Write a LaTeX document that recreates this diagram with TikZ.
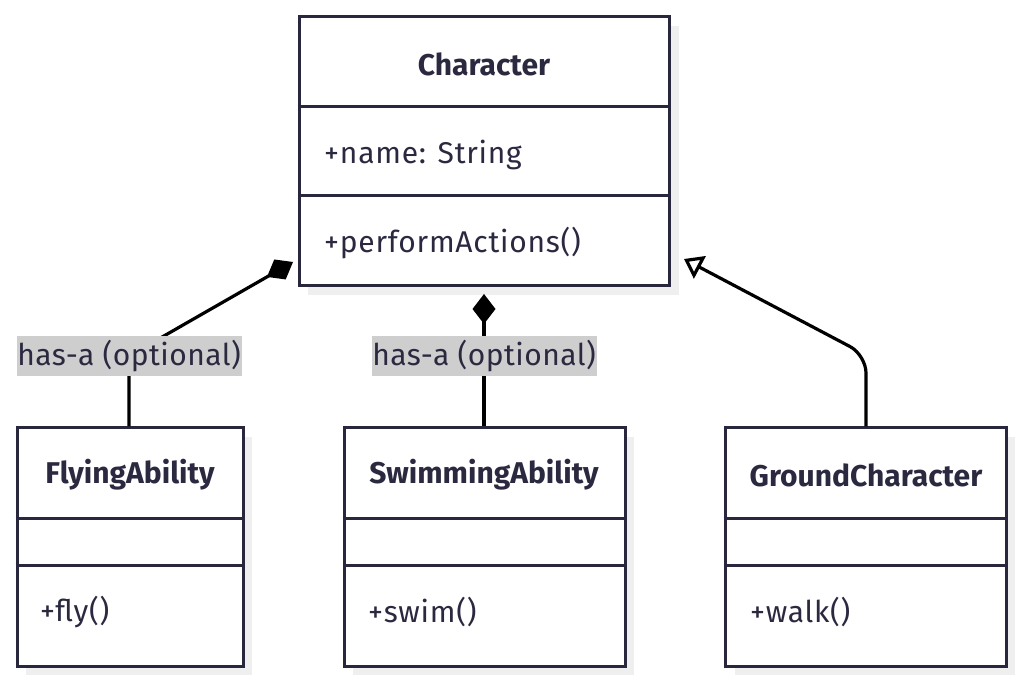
\documentclass[tikz,border=0pt]{standalone}
\usepackage{fontspec}
\setmainfont{Fira Sans}
\newfontfamily\memfont[LetterSpace=2.5]{Fira Sans}
\newfontfamily\lblfont[LetterSpace=1.5]{Fira Sans}
\usetikzlibrary{arrows.meta}
\definecolor{boxc}{RGB}{40,39,62}
\definecolor{txtc}{RGB}{42,41,64}
\definecolor{shad}{RGB}{239,239,239}
\definecolor{lblbg}{RGB}{206,206,206}
\tikzset{
  cls/.style={draw=boxc, line width=3pt, fill=white, rectangle, inner sep=0pt},
  divider/.style={draw=boxc, line width=3pt},
  ttl/.style={font=\fontsize{30}{34}\selectfont\bfseries, text=txtc, inner sep=0pt},
  mem/.style={font=\memfont\fontsize{30}{34}\selectfont, text=txtc, inner sep=0pt, anchor=west},
  conn/.style={draw=black, line width=3.2pt},
  comp/.style={conn, -{Diamond[length=30pt,width=23pt]}},
  inh/.style={conn, -{Triangle[open,length=18pt,width=25pt,fill=white]}},
  lbl/.style={fill=lblbg, text=txtc, font=\lblfont\fontsize{30}{34}\selectfont, inner sep=0pt, minimum width=225pt, minimum height=40pt}
}
\begin{document}
\begin{tikzpicture}[x=1pt,y=-1pt]
\useasboundingbox (0,0) rectangle (1023,684);
% shadows
\fill[shad] (308,26) rectangle (679,295);
\fill[shad] (26,437) rectangle (252,675);
\fill[shad] (353,437) rectangle (634,675);
\fill[shad] (735,437) rectangle (1015,675);
% class boxes
\node[cls, minimum width=370pt, minimum height=269pt] (character) at (484,151.5) {};
\node[cls, minimum width=226pt, minimum height=238pt] (flying) at (130,547) {};
\node[cls, minimum width=281pt, minimum height=238pt] (swim) at (484.5,547) {};
\node[cls, minimum width=281pt, minimum height=238pt] (ground) at (865.5,547) {};
% dividers
\draw[divider] (character.west |- 0,107) -- (character.east |- 0,107);
\draw[divider] (character.west |- 0,196) -- (character.east |- 0,196);
\foreach \b in {flying,swim,ground}{
  \draw[divider] (\b.west |- 0,518) -- (\b.east |- 0,518);
  \draw[divider] (\b.west |- 0,565) -- (\b.east |- 0,565);
}
% texts
\node[ttl] (characterT) at (484,64) {Character};
\node[mem] (characterA) at (324,155) {+name: String};
\node[mem] (characterM) at (324,243) {+performActions()};
\node[ttl] (flyingT) at (130,475) {FlyingAbility};
\node[mem] (flyingM) at (40,612) {+fly()};
\node[ttl] (swimT) at (484,475) {SwimmingAbility};
\node[mem] (swimM) at (368,612) {+swim()};
\node[ttl] (groundT) at (866,475) {GroundCharacter};
\node[mem] (groundM) at (750,612) {+walk()};
% connectors
\coordinate (t1) at (293,262);
\coordinate (t2) at (484,294);
\coordinate (t3) at (684,259);
\coordinate (l1) at (129,356);
\coordinate (l2) at (484,356);
\coordinate (b3) at (866,355);
\draw[comp] (flying.north -| l1) -- (l1) -- (t1);
\draw[comp] (swim.north -| l2) -- (l2) -- (t2);
\draw[inh, rounded corners=18pt] (ground.north -| b3) -- (b3) -- (t3);
% labels
\node[lbl] (lab1) at (l1) {has-a (optional)};
\node[lbl] (lab2) at (l2) {has-a (optional)};
\end{tikzpicture}
\end{document}
